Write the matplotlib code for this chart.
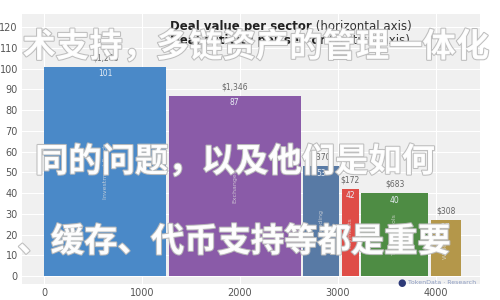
import matplotlib
matplotlib.use('Agg')
import matplotlib.pyplot as plt
import matplotlib.patheffects as pe
import numpy as np

# sector data: deal value (bar width, $M) and deal count (bar height)
sectors = ['Investment Funds', 'Exchanges', 'Lending', 'Payments', 'Trading Tools', 'Wallets']
deal_value = [1248, 1346, 370, 172, 683, 308]
deal_count = [101, 87, 53, 42, 40, 27]
colors = ['#4a89c8', '#8a5ba8', '#587aa5', '#df4d47', '#4e8c44', '#b4974a']

y_ticks = list(range(0, 130, 10))
x_ticks = [0, 1000, 2000, 3000, 4000]

watermark = ['术支持，多链资产的管理一体化',
             '同的问题，以及他们是如何',
             '、缓存、代币支持等都是重要']

gap = 25
lefts = []
pos = 0
for w in deal_value:
    lefts.append(pos)
    pos += w + gap

fig = plt.figure(figsize=(5, 3), dpi=100)
fig.patch.set_facecolor('white')
ax = fig.add_axes([0.044, 0.053, 0.916, 0.9])
ax.set_facecolor('#f0f0f0')

ax.bar(lefts, deal_count, width=deal_value, align='edge', color=colors,
       edgecolor='none', zorder=2)

for x, w, h, name in zip(lefts, deal_value, deal_count, sectors):
    cx = x + w / 2
    ax.text(cx, h + 2.2, '${:,}'.format(w), ha='center', va='bottom',
            fontsize=5.5, color='#666666', zorder=3)
    ax.text(cx, h - 1.2, str(h), ha='center', va='top',
            fontsize=5.5, color='#e8eef5', zorder=3)
    ax.text(cx, h / 2, name, ha='center', va='center', rotation=90,
            fontsize=4.5, color='#dddddd', alpha=0.8, zorder=3)

ax.set_xlim(-224, 4449)
ax.set_ylim(-3.9, 126.3)
ax.set_yticks(y_ticks)
ax.set_xticks(x_ticks)
ax.tick_params(axis='both', length=0, labelsize=7, colors='#555555')
ax.tick_params(axis='y', pad=3)
ax.tick_params(axis='x', pad=3)
ax.grid(True, color='white', linewidth=0.8, zorder=0)
ax.set_axisbelow(True)
for s in ax.spines.values():
    s.set_visible(False)

# two line title inside the plot
t1 = fig.text(0.34, 0.9, 'Deal value per sector', fontsize=8.5, weight='bold', color='#222222')
fig.canvas.draw()
ax.annotate(' (horizontal axis)', xy=(1, 0), xycoords=t1, va='bottom',
            fontsize=8.5, color='#333333')
t2 = fig.text(0.34, 0.852, 'Deal activity per sector', fontsize=8.5, weight='bold', color='#222222')
ax.annotate(' (vertical axis)', xy=(1, 0), xycoords=t2, va='bottom',
            fontsize=8.5, color='#333333')

# source mark
fig.text(0.795, 0.057, '\u25cf', fontsize=7, color='#2d3a78', va='center')
fig.text(0.815, 0.057, 'TokenData \u00b7 Research', fontsize=4.5, color='#8a9ac0', va='center')

# overlaid watermark text
wm_y = [0.843, 0.46, 0.193]
wm_x = [0.045, 0.07, 0.035]
for s, x, y in zip(watermark, wm_x, wm_y):
    fig.text(x, y, s, fontsize=24, weight='black', color='white', va='center',
             family=['Noto Sans CJK SC', 'DejaVu Sans'], alpha=0.95,
             path_effects=[pe.withStroke(linewidth=1.5, foreground='#bbbbbb')])

fig.savefig('out.png', dpi=100)
